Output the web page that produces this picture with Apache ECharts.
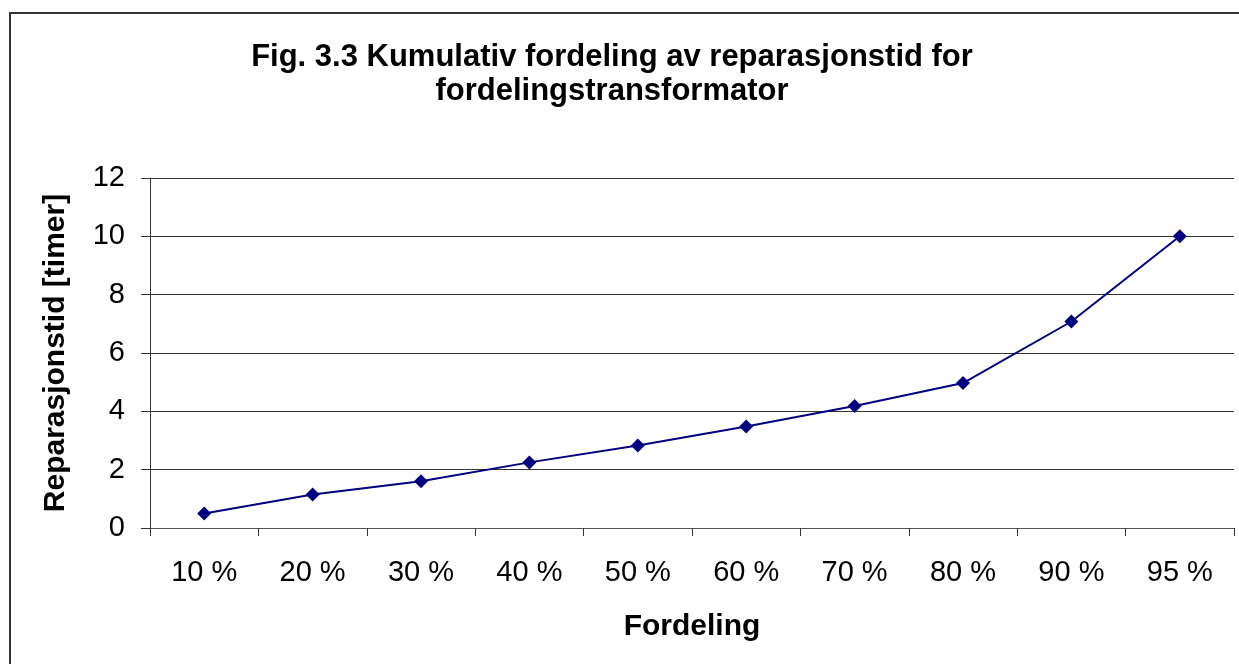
<!DOCTYPE html>
<html>
<head>
<meta charset="utf-8">
<script src="https://cdn.jsdelivr.net/npm/echarts@6/dist/echarts.min.js"></script>
<style>
  html, body { margin: 0; padding: 0; background: #fff; }
  #chart { width: 1239px; height: 664px; }
</style>
</head>
<body>
<div id="chart"></div>
<script>
const categories = ['10 %', '20 %', '30 %', '40 %', '50 %', '60 %', '70 %', '80 %', '90 %', '95 %']
const repairHours = [0.5, 1.15, 1.6, 2.25, 2.83, 3.48, 4.18, 4.97, 7.08, 10.0]
const yTicks = { min: 0, max: 12, interval: 2 }
const titleLines = ['Fig. 3.3 Kumulativ fordeling av reparasjonstid for', 'fordelingstransformator']

const font = '"Liberation Sans", Arial, sans-serif'
const chart = echarts.init(document.getElementById('chart'), null, { renderer: 'canvas' })

chart.setOption({
  animation: false,
  backgroundColor: '#fff',
  graphic: [
    {
      type: 'rect',
      shape: { x: 10, y: 13, width: 1260, height: 700 },
      style: { fill: 'none', stroke: '#333', lineWidth: 2 },
      silent: true
    },
    // titel i to linjer
    ...titleLines.map((line, i) => ({
      type: 'text',
      style: {
        x: 612, y: 57 + i * 34,
        text: line,
        font: 'bold 31px ' + font,
        fill: '#000',
        textAlign: 'center',
        textVerticalAlign: 'middle'
      }
    }))
  ],
  grid: { left: 150, right: 5, top: 178, bottom: 136, containLabel: false },
  xAxis: {
    type: 'category',
    data: categories,
    boundaryGap: true,
    name: 'Fordeling',
    nameLocation: 'middle',
    nameGap: 84,
    nameTextStyle: { fontFamily: font, fontSize: 30, fontWeight: 'bold', color: '#000' },
    axisLine: { lineStyle: { color: '#555', width: 1 } },
    axisTick: { show: true, length: 8, inside: false, lineStyle: { color: '#333' } },
    axisLabel: { fontFamily: font, fontSize: 29, color: '#000', margin: 30, interval: 0 },
    splitLine: { show: false }
  },
  yAxis: {
    type: 'value',
    min: yTicks.min,
    max: yTicks.max,
    interval: yTicks.interval,
    name: 'Reparasjonstid [timer]',
    nameLocation: 'middle',
    nameGap: 79,
    nameRotate: 90,
    nameTextStyle: { fontFamily: font, fontSize: 30, fontWeight: 'bold', color: '#000' },
    axisLine: { show: true, lineStyle: { color: '#333', width: 1 } },
    axisTick: { show: true, length: 9, lineStyle: { color: '#333' } },
    axisLabel: { fontFamily: font, fontSize: 29, color: '#000', margin: 25 },
    splitLine: { show: true, lineStyle: { color: '#333', width: 1 } }
  },
  series: [{
    type: 'line',
    data: repairHours,
    symbol: 'diamond',
    symbolSize: 14,
    itemStyle: { color: '#000080' },
    lineStyle: { color: '#000080', width: 2 }
  }]
})
</script>
</body>
</html>
